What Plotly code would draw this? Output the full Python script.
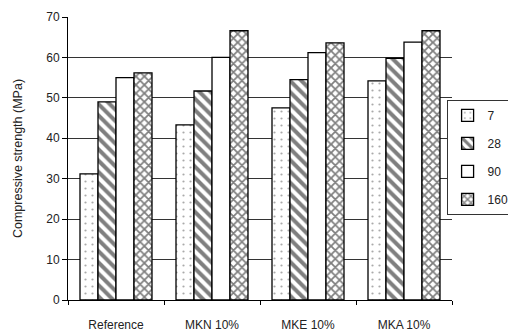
import plotly.graph_objects as go

categories = ["Reference", "MKN 10%", "MKE 10%", "MKA 10%"]
series_names = ["7", "28", "90", "160"]
v7 = [31.2, 43.3, 47.5, 54.2]
v28 = [49.0, 51.7, 54.5, 59.8]
v90 = [55.0, 60.0, 61.2, 63.8]
v160 = [56.2, 66.6, 63.6, 66.6]
values = [v7, v28, v90, v160]
y_ticks = [0, 10, 20, 30, 40, 50, 60, 70]

patterns = [
    dict(shape=".", fgcolor="#555555", bgcolor="white", size=7, solidity=0.08),
    dict(shape="\\", fgcolor="black", bgcolor="white", size=8, solidity=0.5),
    dict(shape="", bgcolor="white"),
    dict(shape="x", fgcolor="black", bgcolor="white", size=6, solidity=0.5),
]

fig = go.Figure()
for name, vals, pat in zip(series_names, values, patterns):
    fig.add_trace(go.Bar(
        x=categories, y=vals, name=name, legendgroup=name,
        marker=dict(color="white", line=dict(color="black", width=1.3), pattern=pat),
    ))

# the page body adds an 8px offset, so the figure is 8px smaller
fig.update_layout(
    width=508, height=324,
    margin=dict(l=60, r=64, t=9, b=32, autoexpand=False),
    paper_bgcolor="white", plot_bgcolor="white",
    barmode="group", bargap=0.25, bargroupgap=0,
    font=dict(family="Liberation Sans, Arial, sans-serif", size=12, color="#222222"),
    legend=dict(x=1.163, y=0.707, xanchor="right", yanchor="top",
                bordercolor="#333333", borderwidth=1, bgcolor="white",
                font=dict(size=12), tracegroupgap=9, itemwidth=30),
    showlegend=True,
)
fig.update_yaxes(
    range=[0, 70], tickvals=y_ticks, showgrid=True, gridcolor="#333333", gridwidth=1,
    showline=True, linecolor="black", linewidth=1, ticks="outside", ticklen=5,
    tickcolor="black", automargin=False,
    title=dict(text="Compressive strength (MPa)", font=dict(size=12.5), standoff=20),
    zeroline=False,
)
fig.update_xaxes(
    showline=True, linecolor="black", linewidth=1, ticks="outside", ticklen=4,
    tickcolor="black", tickson="boundaries", showgrid=False, automargin=False,
    ticklabelstandoff=14,
)

fig.write_html("out.html")
